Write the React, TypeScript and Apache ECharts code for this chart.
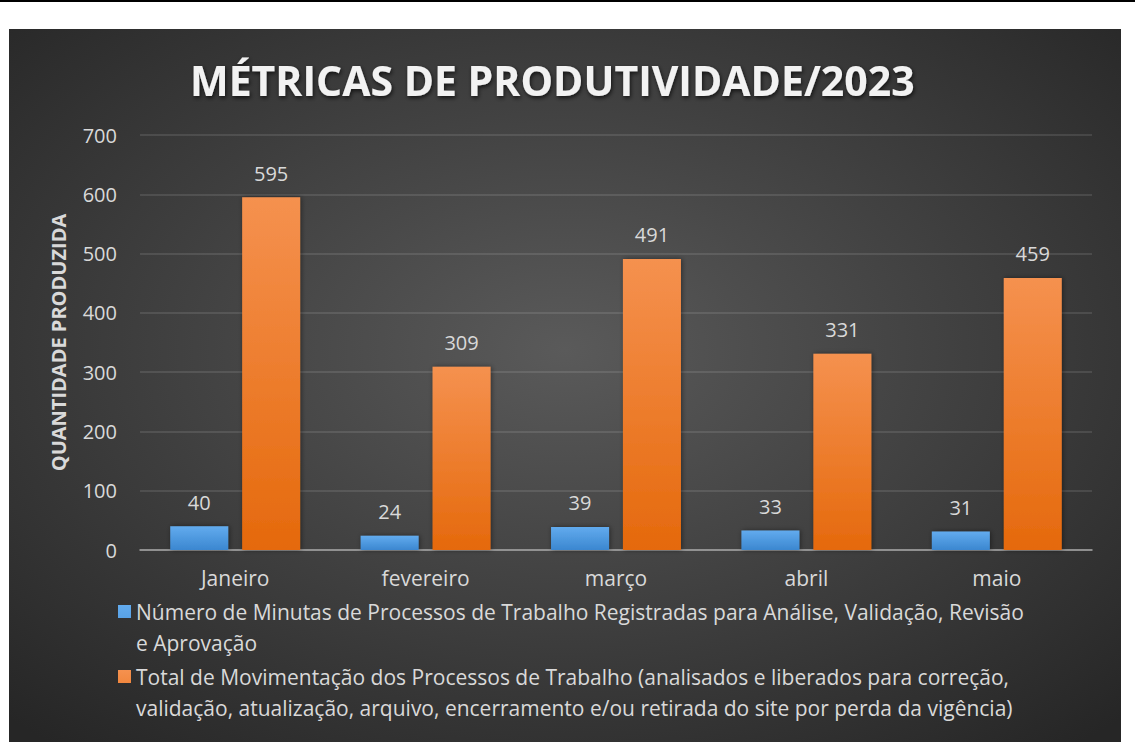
import React, { useEffect, useRef } from 'react';
import * as echarts from 'echarts';

const categories = ['Janeiro', 'fevereiro', 'março', 'abril', 'maio'];
const minutas = [40, 24, 39, 33, 31];
const movimentacao = [595, 309, 491, 331, 459];
const yMin = 0;
const yMax = 700;
const yInterval = 100;
const titleText = 'MÉTRICAS DE PRODUTIVIDADE/2023';
const yAxisName = 'QUANTIDADE PRODUZIDA';
const seriesNames = [
  'Número de Minutas de Processos de Trabalho Registradas para Análise, Validação, Revisão e Aprovação',
  'Total de Movimentação dos Processos de Trabalho (analisados e liberados para correção, validação, atualização, arquivo, encerramento e/ou retirada do site por perda da vigência)',
];
const legendLines = [
  ['Número de Minutas de Processos de Trabalho Registradas para Análise, Validação, Revisão', 'e Aprovação'],
  ['Total de Movimentação dos Processos de Trabalho (analisados e liberados para correção,', 'validação, atualização, arquivo, encerramento e/ou retirada do site por perda da vigência)'],
];

const FONT = '"Open Sans", sans-serif';
const TXT = '#d9d9d9';

export default function App() {
  const ref = useRef<HTMLDivElement>(null);
  useEffect(() => {
    if (!ref.current) return;
    const chart = echarts.init(ref.current, undefined, { renderer: 'svg' });
    const blueGrad = new echarts.graphic.LinearGradient(0, 0, 0, 1, [
      { offset: 0, color: '#62abee' },
      { offset: 1, color: '#3b87d0' },
    ]);
    const orangeGrad = new echarts.graphic.LinearGradient(0, 0, 0, 1, [
      { offset: 0, color: '#f5914f' },
      { offset: 1, color: '#e5690c' },
    ]);
    const iconPath = 'path://M0,0L0,0M0,9H13V22H0ZM0,62L0,62';
    chart.setOption({
      animation: false,
      textStyle: { fontFamily: FONT },
      graphic: [
        { type: 'rect', left: 0, top: 0, shape: { width: 1135, height: 2 }, style: { fill: '#000' }, z: -10 },
        {
          type: 'rect',
          left: 9,
          top: 29,
          shape: { width: 1112, height: 713 },
          style: {
            fill: new echarts.graphic.RadialGradient(0.5, 0.45, 0.72, [
              { offset: 0, color: '#5a5a5a' },
              { offset: 1, color: '#262626' },
            ]),
          },
          z: -10,
        },
      ],
      title: {
        text: titleText,
        left: 190,
        top: 59,
        padding: 0,
        textStyle: {
          fontFamily: FONT,
          fontWeight: 'bold',
          fontSize: 41,
          color: '#f2f2f2',
          textShadowColor: 'rgba(0,0,0,0.7)',
          textShadowBlur: 4,
          textShadowOffsetX: 1,
          textShadowOffsetY: 2,
        },
      },
      grid: { left: 140, right: 43, top: 135, bottom: 192 },
      legend: {
        orient: 'vertical',
        left: 118,
        top: 596,
        padding: 0,
        itemWidth: 13,
        itemHeight: 62,
        itemGap: 3,
        icon: iconPath,
        data: seriesNames,
        formatter: (name: string) => legendLines[seriesNames.indexOf(name)].join('\n'),
        textStyle: { color: TXT, fontSize: 21, lineHeight: 31, fontFamily: FONT },
        selectedMode: false,
      },
      xAxis: {
        type: 'category',
        data: categories,
        axisTick: { show: false },
        axisLine: { lineStyle: { color: '#a6a6a6', width: 1.5 } },
        axisLabel: { color: TXT, fontSize: 21, margin: 17, fontFamily: FONT },
      },
      yAxis: {
        type: 'value',
        min: yMin,
        max: yMax,
        interval: yInterval,
        name: yAxisName,
        nameLocation: 'middle',
        nameRotate: 90,
        nameGap: 72,
        nameTextStyle: { color: TXT, fontSize: 20, fontWeight: 'bold', fontFamily: FONT },
        axisLabel: { color: TXT, fontSize: 20, margin: 23, fontFamily: FONT },
        axisLine: { show: false },
        axisTick: { show: false },
        splitLine: { lineStyle: { color: 'rgba(255,255,255,0.14)', width: 1.5 } },
      },
      series: [
        {
          name: seriesNames[0],
          type: 'bar',
          data: minutas,
          barWidth: 58,
          barGap: '24%',
          itemStyle: { color: blueGrad, shadowColor: 'rgba(0,0,0,0.45)', shadowBlur: 5, shadowOffsetX: 1 },
          label: { show: true, position: 'top', distance: 14, color: TXT, fontSize: 20, fontFamily: FONT },
        },
        {
          name: seriesNames[1],
          type: 'bar',
          data: movimentacao,
          barWidth: 58,
          barGap: '24%',
          itemStyle: { color: orangeGrad, shadowColor: 'rgba(0,0,0,0.45)', shadowBlur: 5, shadowOffsetX: 1 },
          label: { show: true, position: 'top', distance: 14, color: TXT, fontSize: 20, fontFamily: FONT },
        },
      ],
    });
    return () => chart.dispose();
  }, []);
  return (
    <div
      ref={ref}
      style={{ position: 'fixed', left: 0, top: 0, width: 1135, height: 742, background: '#fff' }}
    />
  );
}
